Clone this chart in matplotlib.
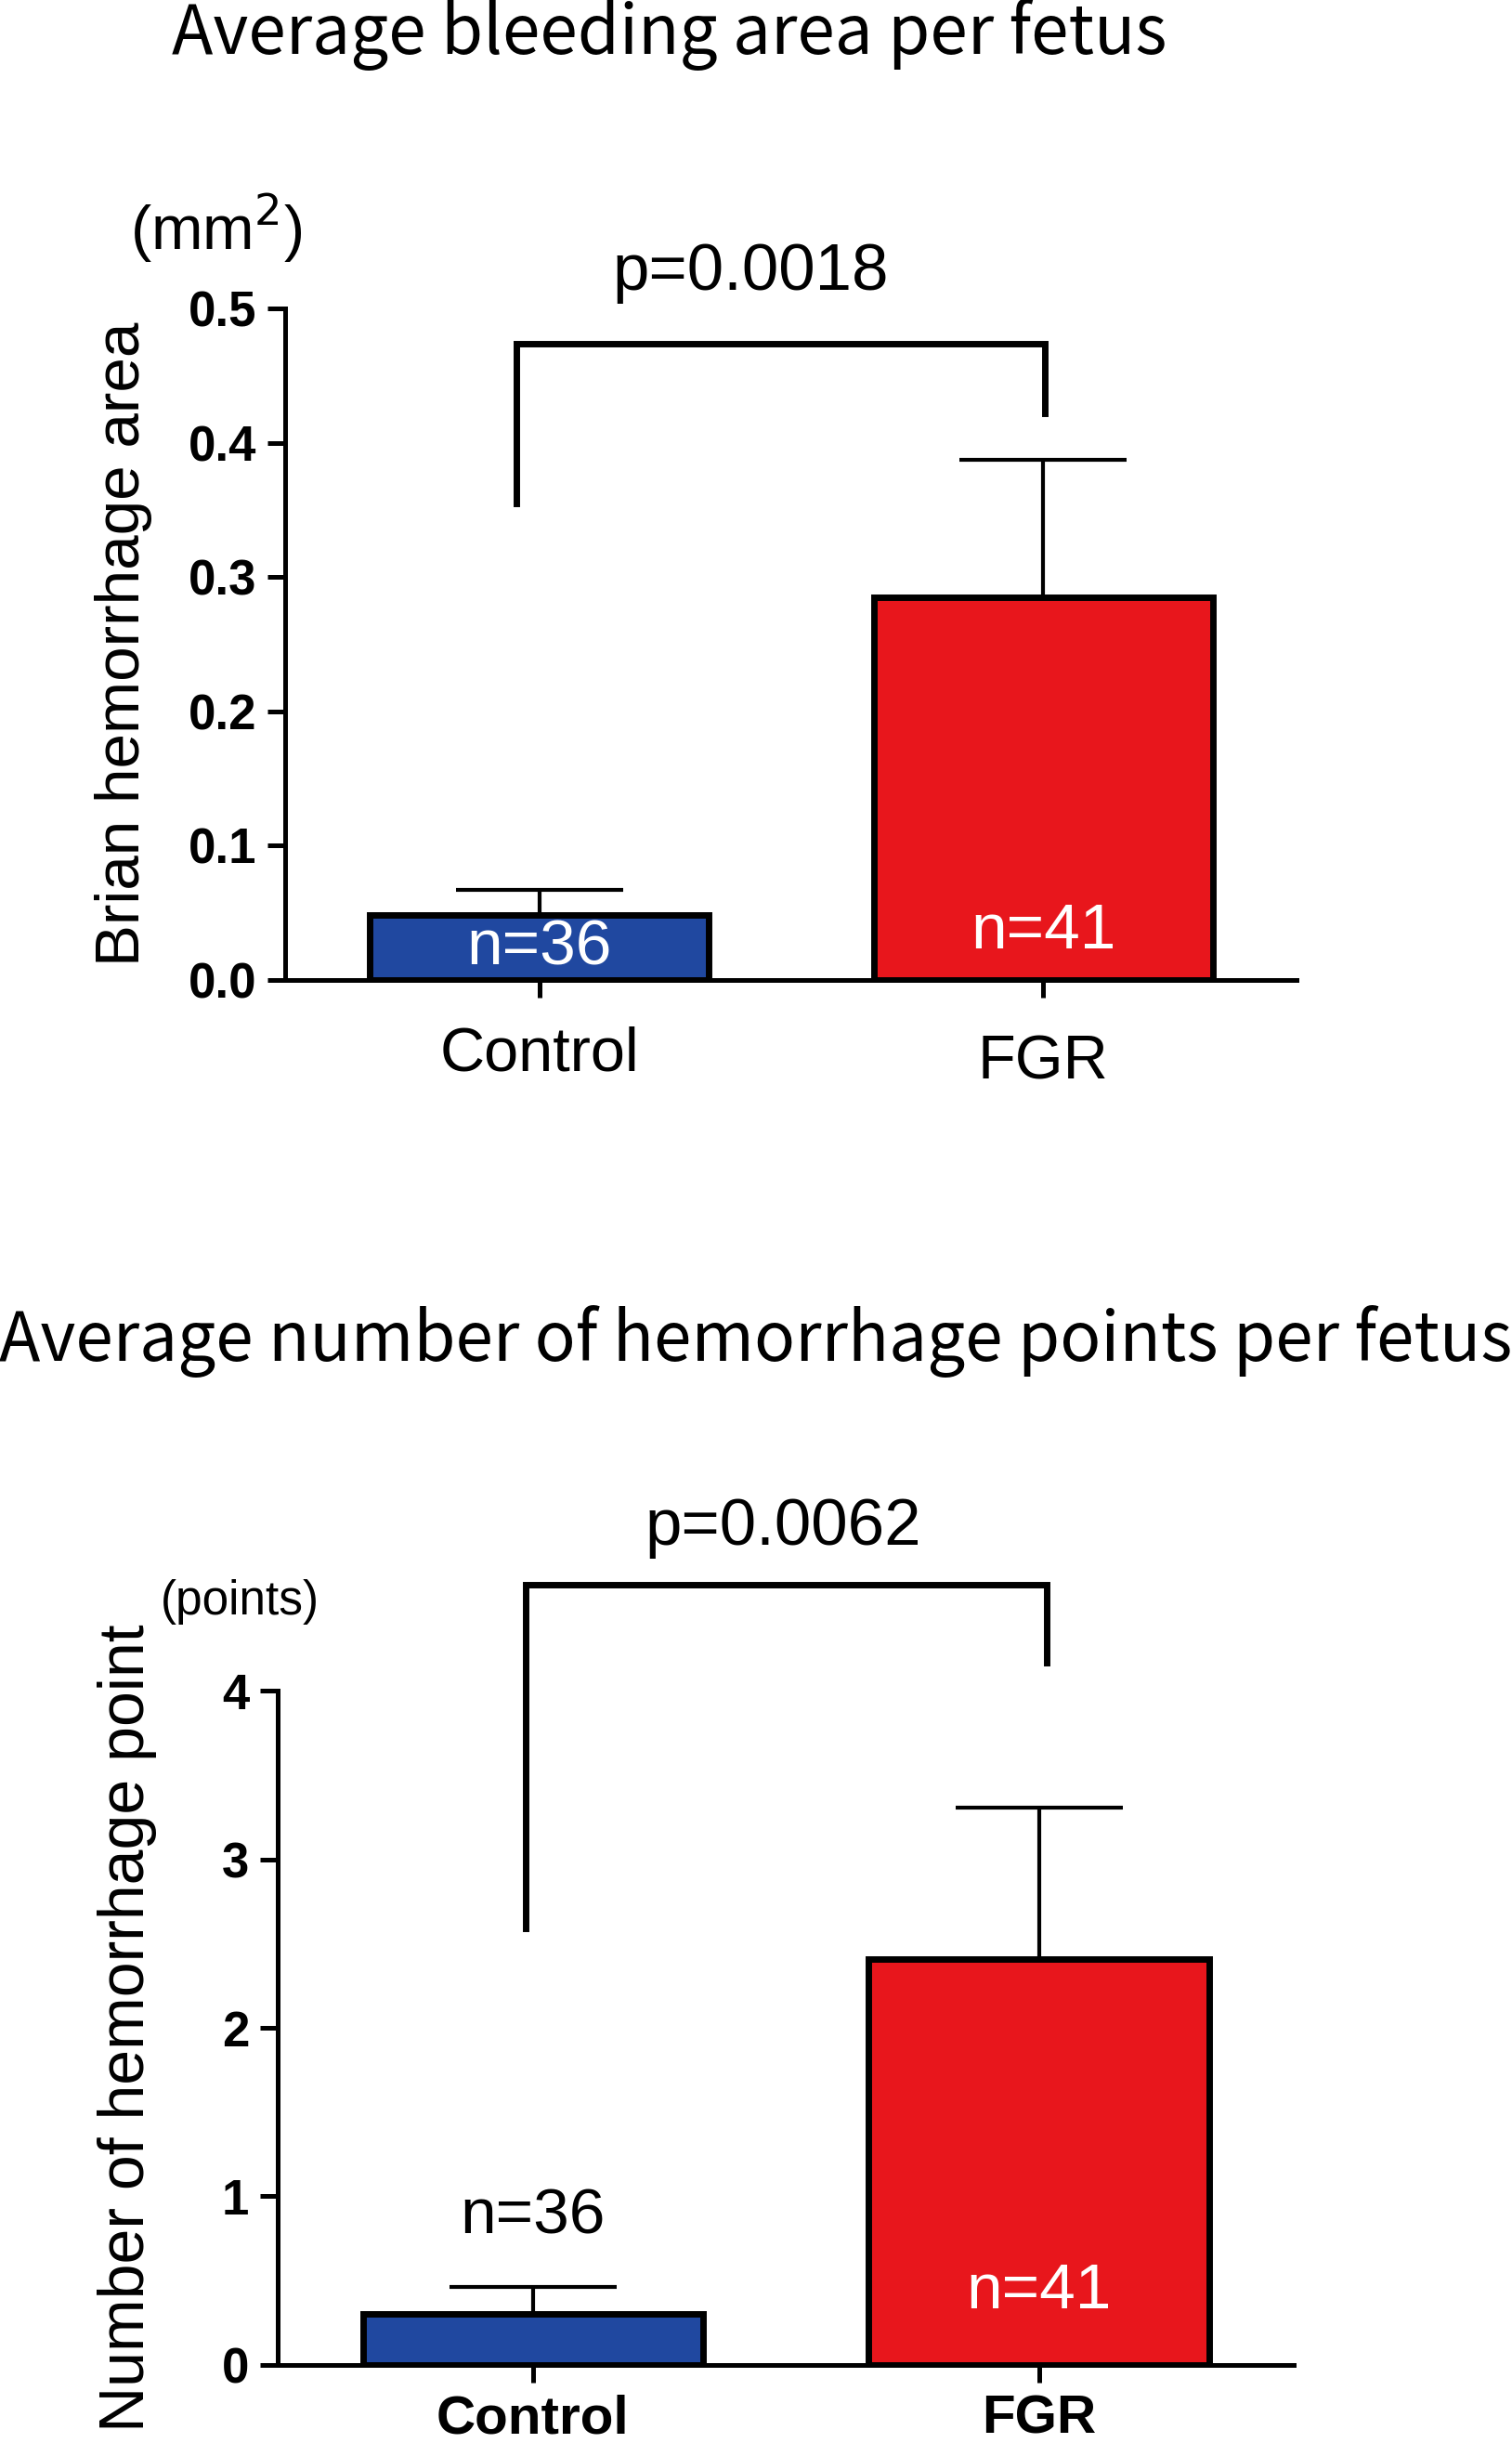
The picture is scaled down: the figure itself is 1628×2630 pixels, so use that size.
import numpy as np
import matplotlib
matplotlib.use("Agg")
import matplotlib.pyplot as plt
from matplotlib.transforms import ScaledTranslation

groups = ["Control", "FGR"]
colors = ["#2048a0", "#e8161c"]

# top panel: bleeding area (mm2)
area_mean = [0.048, 0.285]
area_err = [0.019, 0.102]
area_n = ["n=36", "n=41"]
area_ticks = [0.0, 0.1, 0.2, 0.3, 0.4, 0.5]
area_ticklabels = ["0.0", "0.1", "0.2", "0.3", "0.4", "0.5"]
area_bracket = [0.355, 0.474, 0.422]   # left foot, top, right foot
area_p = "p=0.0018"

# bottom panel: number of points
pts_mean = [0.30, 2.41]
pts_err = [0.16, 0.90]
pts_n = ["n=36", "n=41"]
pts_ticks = [0, 1, 2, 3, 4]
pts_ticklabels = ["0", "1", "2", "3", "4"]
pts_bracket = [2.59, 4.63, 4.17]
pts_p = "p=0.0062"

narrow = ["Liberation Sans Narrow", "Liberation Sans", "DejaVu Sans"]
jp = ["Noto Sans CJK JP", "DejaVu Sans"]

fig = plt.figure(figsize=(16.28, 26.30), dpi=100)

def panel(ax, mean, err, ntext, ticks, tlabels, ymax, bracket, bx, ptxt, px,
          py, n_y, n_colors, xlabel_size, xpad):
    x = np.arange(len(groups))
    w = 0.673
    ax.bar(x, mean, width=w, color=colors, edgecolor="black", linewidth=5,
           zorder=3)
    ax.errorbar(x, mean, yerr=[np.zeros(2), err], fmt="none", ecolor="black",
                elinewidth=3, capsize=65, capthick=3, zorder=2)
    ax.set_xlim(-0.505, 1.503)
    ax.set_ylim(0, ymax)
    for s in ["top", "right"]:
        ax.spines[s].set_visible(False)
    ax.spines["left"].set_linewidth(3.6)
    ax.spines["bottom"].set_linewidth(3.6)
    ax.set_yticks(ticks)
    ax.set_yticklabels(tlabels, family=narrow, fontweight="bold", fontsize=38)
    ax.set_xticks(x)
    ax.set_xticklabels(groups, family=narrow, fontsize=xlabel_size)
    ax.tick_params(axis="both", width=3.6, length=14, pad=8)
    ax.tick_params(axis="x", pad=xpad)
    # bracket
    ax.plot([bx[0], bx[0], bx[1], bx[1]],
            [bracket[0], bracket[1], bracket[1], bracket[2]],
            color="black", lw=5, clip_on=False, solid_joinstyle="miter")
    ax.text(px, py, ptxt, ha="center", va="center", family=narrow,
            fontsize=51, clip_on=False)
    for i in range(2):
        ax.text(x[i], n_y[i], ntext[i], ha="center", va="center",
                family=narrow, fontsize=50, color=n_colors[i], zorder=4)

ax1 = fig.add_axes([0.1886, 0.5989, 0.6689, 0.2749])
panel(ax1, area_mean, area_err, area_n, area_ticks, area_ticklabels, 0.5,
      area_bracket, [-0.046, 1.003], area_p, 0.42, 0.526,
      [0.024, 0.036], ["white", "white"], 48, 22)
lab = ax1.get_xticklabels()[1]
lab.set_transform(lab.get_transform()
                  + ScaledTranslation(0, -6 / 72, fig.dpi_scale_trans))
ax1.set_ylabel("Brian hemorrhage area", family="Liberation Sans",
               fontsize=48.5, labelpad=28)
ax1.text(-0.642, 0.56, "(mm$^2$)", ha="center", va="center", family=narrow,
         fontsize=48, clip_on=False)

ax2 = fig.add_axes([0.1835, 0.0321, 0.6720, 0.2757])
panel(ax2, pts_mean, pts_err, pts_n, pts_ticks, pts_ticklabels, 4,
      pts_bracket, [-0.015, 1.015], pts_p, 0.494, 4.97,
      [0.88, 0.435], ["black", "white"], 42, 9)
for t in ax2.get_xticklabels():
    t.set_fontweight("bold")
ax2.set_ylabel("Number of hemorrhage point", family="Liberation Sans",
               fontsize=49, labelpad=50)
ax2.text(-0.58, 4.53, "(points)", ha="center", va="center", family=narrow,
         fontsize=37, clip_on=False)

fig.text(0.443, 0.986, "Average bleeding area per fetus", ha="center",
         va="center", family=jp, fontsize=52.5)
fig.text(0.5, 0.451, "Average number of hemorrhage points per fetus",
         ha="center", va="center", family=jp, fontsize=52.5)

fig.savefig("out.png", dpi=100)
